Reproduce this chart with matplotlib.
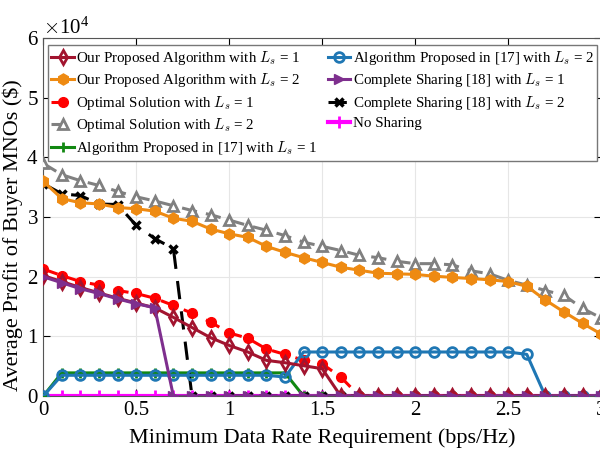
import matplotlib.pyplot as plt
import numpy as np
from matplotlib.ticker import ScalarFormatter

plt.rcParams['font.family'] = ['Liberation Serif', 'DejaVu Serif']
plt.rcParams['mathtext.fontset'] = 'cm'

# Data (profit in units of 1e4 $)
rate = np.round(np.arange(0, 3.01, 0.1), 1)

our_ls1 = [2.02, 1.92, 1.82, 1.73, 1.64, 1.56, 1.48, 1.32, 1.15, 0.98, 0.85, 0.74, 0.60, 0.56, 0.51, 0.46,
           0, 0, 0, 0, 0, 0, 0, 0, 0, 0, 0, 0, 0, 0, 0]
our_ls2 = [3.60, 3.31, 3.24, 3.22, 3.16, 3.14, 3.10, 2.98, 2.93, 2.80, 2.72, 2.66, 2.51, 2.41, 2.32, 2.24,
           2.16, 2.11, 2.06, 2.05, 2.04, 2.01, 1.99, 1.97, 1.95, 1.92, 1.84, 1.61, 1.41, 1.22, 1.04]
opt_ls1 = [2.13, 2.02, 1.92, 1.86, 1.77, 1.72, 1.64, 1.52, 1.39, 1.24, 1.06, 0.97, 0.79, 0.70, 0.60, 0.54,
           0.32, 0, 0, 0, 0, 0, 0, 0, 0, 0, 0, 0, 0, 0, 0]
opt_ls2 = [3.90, 3.71, 3.61, 3.53, 3.43, 3.34, 3.27, 3.19, 3.11, 3.04, 2.95, 2.86, 2.78, 2.69, 2.58, 2.51,
           2.44, 2.36, 2.32, 2.26, 2.22, 2.22, 2.20, 2.10, 2.05, 1.94, 1.86, 1.77, 1.69, 1.47, 1.31]
alg17_ls1 = [0] + [0.39] * 13 + [0] * 17
alg17_ls2 = [0] + [0.35] * 12 + [0.32] + [0.74] * 12 + [0.70] + [0] * 4
cs_ls1 = [2.00, 1.90, 1.80, 1.72, 1.63, 1.55, 1.48] + [0] * 24
cs_ls2 = [3.56, 3.39, 3.36, 3.22, 3.21, 2.86, 2.64, 2.47] + [0] * 23
no_sharing = [0] * 31

fig = plt.figure(figsize=(6, 4.58), dpi=100)
ax = fig.add_axes([0.072, 0.135, 0.93, 0.782])

s = 1e4
lw = 2.2
ax.plot(rate, np.array(our_ls1) * s, color='#A2142F', marker='d', ms=7, mfc='none', mew=2, lw=lw,
        label='Our Proposed Algorithm with $L_s$ = 1', zorder=5)
ax.plot(rate, np.array(our_ls2) * s, color='#EE8A12', marker='h', ms=8, lw=lw,
        label='Our Proposed Algorithm with $L_s$ = 2', zorder=4)
ax.plot(rate, np.array(opt_ls1) * s, color='#FF0000', marker='o', ms=7, lw=lw, ls=(0, (5, 3)),
        label='Optimal Solution with $L_s$ = 1', zorder=4)
ax.plot(rate, np.array(opt_ls2) * s, color='#808080', marker='^', ms=7, mfc='white', mew=2, lw=lw, ls=(0, (5, 3)),
        label='Optimal Solution with $L_s$ = 2', zorder=3)
ax.plot(rate, np.array(alg17_ls1) * s, color='#118811', marker='+', ms=7, mew=2, lw=lw,
        label='Algorithm Proposed in [17] with $L_s$ = 1', zorder=3)
ax.plot(rate, np.array(alg17_ls2) * s, color='#1F77B4', marker='o', ms=7, mfc='none', mew=2, lw=lw,
        label='Algorithm Proposed in [17] with $L_s$ = 2', zorder=4)
ax.plot(rate, np.array(cs_ls1) * s, color='#7E2F8E', marker='>', ms=7, lw=lw,
        label='Complete Sharing [18] with $L_s$ = 1', zorder=6)
ax.plot(rate, np.array(cs_ls2) * s, color='black', marker='x', ms=6, mew=2.5, lw=lw, ls=(0, (6, 4)),
        label='Complete Sharing [18] with $L_s$ = 2', zorder=3)
ax.plot(rate, np.array(no_sharing) * s, color='#FF00FF', marker='+', ms=8, mew=2, lw=3,
        label='No Sharing', zorder=2)

ax.set_xlim(0, 3)
ax.set_ylim(0, 6e4)
ax.set_xticks([0, 0.5, 1, 1.5, 2, 2.5, 3])
ax.set_xticklabels(['0', '0.5', '1', '1.5', '2', '2.5', '3'])
ax.set_yticks(np.arange(0, 7) * 1e4)
fmt = ScalarFormatter(useMathText=True)
fmt.set_powerlimits((0, 0))
ax.yaxis.set_major_formatter(fmt)
ax.yaxis.get_offset_text().set_fontsize(15)
ax.tick_params(direction='in', labelsize=15, top=True, right=True, length=5)
ax.grid(True, color='#e6e6e6', lw=0.8)
ax.set_axisbelow(True)
for sp in ax.spines.values():
    sp.set_color('#555555')

ax.set_xlabel('Minimum Data Rate Requirement (bps/Hz)', fontsize=16, labelpad=6)
ax.set_ylabel('Average Profit of Buyer MNOs (\\$)', fontsize=16)
ax.yaxis.set_label_coords(-0.037, 0.45)

leg = ax.legend(ncol=2, loc='upper left', bbox_to_anchor=(0.008, 0.98), fontsize=10.8, handlelength=1.5,
                handletextpad=0.15, columnspacing=0.7, labelspacing=0.3, borderpad=0.25, borderaxespad=0,
                fancybox=False, framealpha=1, edgecolor='#777777')
leg.get_frame().set_linewidth(1)

fig.savefig('out.png', dpi=100)
